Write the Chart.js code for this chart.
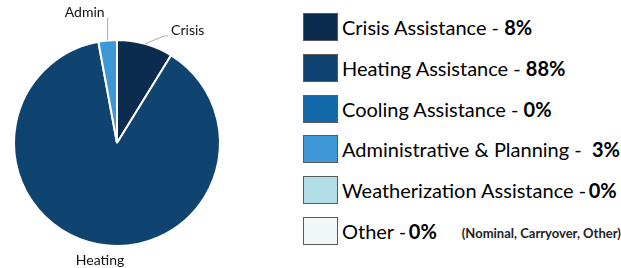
<!DOCTYPE html>
<html lang="en">
<head>
  <meta charset="UTF-8">
  <title>Funding Breakdown</title>
  <style>
    body {
      margin: 0;
      width: 621px;
      height: 268px;
      background: #ffffff;
      font-family: 'Lato', sans-serif;
      color: #000;
      position: relative;
      overflow: hidden;
    }

    #pie-wrap {
      position: absolute;
      left: 0;
      top: 0;
      width: 234px;
      height: 268px;
    }

    #legend {
      position: absolute;
      left: 303px;
      top: 13px;
      margin: 0;
      padding: 0;
      list-style: none;
      white-space: nowrap;
    }

    #legend li {
      display: flex;
      align-items: center;
      height: 28px;
      margin-bottom: 12.8px;
      font-size: 20px;
      white-space: pre;
    }

    #legend .box {
      width: 33px;
      height: 26px;
      border: 1px solid #5a5a5a;
      margin-right: 4px;
      flex: none;
    }

    #legend b {
      font-weight: 700;
    }

    #legend .note {
      font-size: 13px;
      font-weight: 700;
      margin-left: 25px;
      margin-top: 4px;
      color: #222;
    }
  </style>
</head>
<body>
  <div id="pie-wrap"><canvas id="pie"></canvas></div>
  <ul id="legend"></ul>

  <script src="https://cdn.jsdelivr.net/npm/chart.js"></script>
  <script>
    // data
    const categories = ['Crisis Assistance', 'Heating Assistance', 'Cooling Assistance',
      'Administrative & Planning', 'Weatherization Assistance', 'Other'];
    const shares = [8.8, 88.3, 0, 2.9, 0, 0];
    const shareLabels = ['8%', '88%', '0%', '3%', '0%', '0%'];
    const separators = [' - ', ' - ', ' - ', ' -  ', ' -\u2009', ' -\u2009'];
    const pieLabels = ['Crisis', 'Heating', '', 'Admin', '', ''];
    const otherNote = '(Nominal, Carryover, Other)';

    const colors = ['#0b2c4f', '#0f4470', '#1368aa', '#3e98d7', '#b1dee7', '#f1f7f7'];

    // outside labels with leader lines, placed from each arc's own geometry
    const outsideLabels = {
      id: 'outsideLabels',
      afterDatasetsDraw(chart) {
        const ctx = chart.ctx;
        const meta = chart.getDatasetMeta(0);
        ctx.save();
        ctx.font = '14px Lato';
        ctx.fillStyle = '#111';
        ctx.strokeStyle = '#aaaaaa';
        ctx.lineWidth = 1;
        meta.data.forEach((arc, i) => {
          const text = pieLabels[i];
          if (!text) return;
          const mid = (arc.startAngle + arc.endAngle) / 2;
          const ex = arc.x + Math.cos(mid) * arc.outerRadius;
          const ey = arc.y + Math.sin(mid) * arc.outerRadius;
          const upper = Math.sin(mid) < 0;
          if (!upper) {
            ctx.textAlign = 'center';
            ctx.textBaseline = 'top';
            ctx.fillText(text, ex + 2, ey + 9);
          } else if (Math.cos(mid) > 0) {
            ctx.beginPath();
            ctx.moveTo(ex, ey);
            ctx.lineTo(ex + 19, ey - 8);
            ctx.lineTo(ex + 23, ey - 8);
            ctx.stroke();
            ctx.textAlign = 'left';
            ctx.textBaseline = 'middle';
            ctx.fillText(text, ex + 26, ey - 13);
          } else {
            ctx.beginPath();
            ctx.moveTo(ex, ey);
            ctx.lineTo(ex, ey - 23);
            ctx.stroke();
            ctx.textAlign = 'right';
            ctx.textBaseline = 'middle';
            ctx.fillText(text, ex - 3, ey - 28);
          }
        });
        ctx.restore();
      }
    };

    new Chart(document.getElementById('pie'), {
      type: 'pie',
      data: {
        labels: categories,
        datasets: [{
          data: shares,
          backgroundColor: colors,
          borderColor: '#ffffff',
          borderWidth: 2
        }]
      },
      options: {
        responsive: true,
        maintainAspectRatio: false,
        animation: false,
        layout: { padding: { top: 39, bottom: 21 } },
        plugins: {
          legend: { display: false },
          tooltip: { enabled: false }
        }
      },
      plugins: [outsideLabels]
    });

    // html legend, built from the same arrays
    const legend = document.getElementById('legend');
    categories.forEach((name, i) => {
      const li = document.createElement('li');
      const box = document.createElement('span');
      box.className = 'box';
      box.style.background = colors[i];
      li.appendChild(box);
      li.appendChild(document.createTextNode(name + separators[i]));
      const b = document.createElement('b');
      b.textContent = shareLabels[i];
      li.appendChild(b);
      if (name === 'Other') {
        const note = document.createElement('span');
        note.className = 'note';
        note.textContent = otherNote;
        li.appendChild(note);
      }
      legend.appendChild(li);
    });
  </script>
</body>
</html>
